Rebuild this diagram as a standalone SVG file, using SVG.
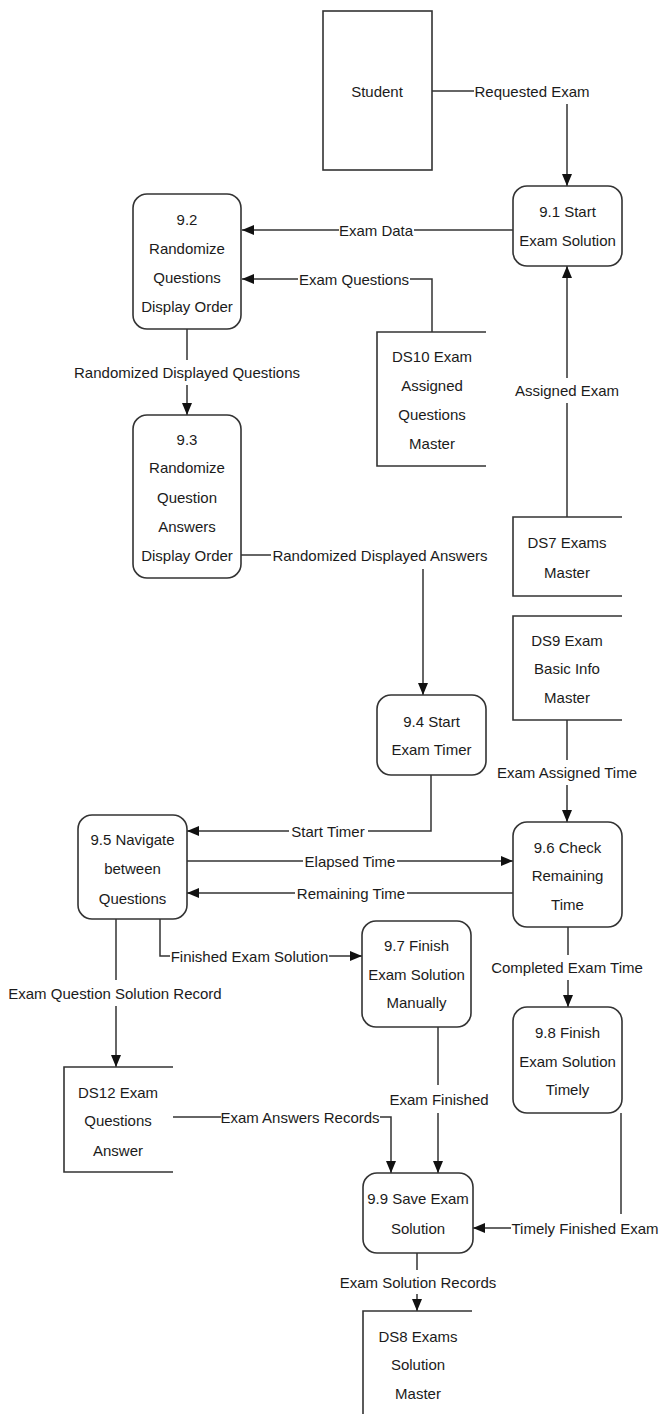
<svg xmlns="http://www.w3.org/2000/svg" width="659" height="1414" viewBox="0 0 659 1414">
  <style>
    .bg { fill: #ffffff; }
    .proc { fill: #ffffff; stroke: #333333; stroke-width: 1.6; }
    .ext { fill: #ffffff; stroke: #333333; stroke-width: 1.6; }
    .store { fill: none; stroke: #333333; stroke-width: 1.6; }
    .flow { fill: none; stroke: #333333; stroke-width: 1.5; }
    .arrow { marker-end: url(#head); }
    text { font-family: "Liberation Sans", Arial, sans-serif; font-size: 15px; fill: #1b1b1b; text-anchor: middle; dominant-baseline: central; }
  </style>
  <defs>
    <marker id="head" markerUnits="userSpaceOnUse" markerWidth="12" markerHeight="10" refX="12" refY="5" orient="auto">
      <path d="M0,0 L12,5 L0,10 z" fill="#111111"/>
    </marker>
  </defs>

  <rect class="bg" x="0" y="0" width="659" height="1414"/>

  <!-- data flows -->
  <g id="connectors">
    <!-- Requested Exam -->
    <path class="flow" d="M432,91 H474"/>
    <path class="flow arrow" d="M567,104 V186"/>
    <text x="532" y="91">Requested Exam</text>
    <!-- Exam Data -->
    <path class="flow" d="M513,230 H414"/>
    <path class="flow arrow" d="M339,230 H242"/>
    <text x="376" y="230">Exam Data</text>
    <!-- Exam Questions -->
    <path class="flow" d="M432,332 V279 H410"/>
    <path class="flow arrow" d="M298,279 H242"/>
    <text x="354" y="279">Exam Questions</text>
    <!-- Randomized Displayed Questions -->
    <path class="flow" d="M187,329 V360"/>
    <path class="flow arrow" d="M187,385 V415"/>
    <text x="187" y="372">Randomized Displayed Questions</text>
    <!-- Randomized Displayed Answers -->
    <path class="flow" d="M241,555 H271"/>
    <path class="flow arrow" d="M423,569 V695"/>
    <text x="380" y="555">Randomized Displayed Answers</text>
    <!-- Assigned Exam -->
    <path class="flow" d="M567,517 V403"/>
    <path class="flow arrow" d="M567,378 V266"/>
    <text x="567" y="390">Assigned Exam</text>
    <!-- Exam Assigned Time -->
    <path class="flow" d="M567,720 V760"/>
    <path class="flow arrow" d="M567,785 V822"/>
    <text x="567" y="772">Exam Assigned Time</text>
    <!-- Start Timer -->
    <path class="flow" d="M431,775 V831 H368"/>
    <path class="flow arrow" d="M289,831 H187"/>
    <text x="328" y="831">Start Timer</text>
    <!-- Elapsed Time -->
    <path class="flow" d="M187,861 H303"/>
    <path class="flow arrow" d="M397,861 H513"/>
    <text x="350" y="861">Elapsed Time</text>
    <!-- Remaining Time -->
    <path class="flow" d="M513,893 H407"/>
    <path class="flow arrow" d="M295,893 H187"/>
    <text x="351" y="893">Remaining Time</text>
    <!-- Finished Exam Solution -->
    <path class="flow" d="M160,919 V956 H170"/>
    <path class="flow arrow" d="M329,956 H362"/>
    <text x="249.5" y="956">Finished Exam Solution</text>
    <!-- Completed Exam Time -->
    <path class="flow" d="M568,927 V955"/>
    <path class="flow arrow" d="M568,980 V1007"/>
    <text x="567" y="967">Completed Exam Time</text>
    <!-- Exam Question Solution Record -->
    <path class="flow" d="M116,919 V980"/>
    <path class="flow arrow" d="M116,1006 V1067"/>
    <text x="115" y="993">Exam Question Solution Record</text>
    <!-- Exam Answers Records -->
    <path class="flow" d="M173,1117 H221"/>
    <path class="flow arrow" d="M380,1117 H391 V1173"/>
    <text x="300" y="1117">Exam Answers Records</text>
    <!-- Exam Finished -->
    <path class="flow" d="M438,1027 V1085"/>
    <path class="flow arrow" d="M438,1113 V1173"/>
    <text x="439" y="1099">Exam Finished</text>
    <!-- Timely Finished Exam -->
    <path class="flow" d="M621,1113 V1214"/>
    <path class="flow arrow" d="M511,1228 H473"/>
    <text x="585" y="1228">Timely Finished Exam</text>
    <!-- Exam Solution Records -->
    <path class="flow" d="M417,1253 V1270"/>
    <path class="flow arrow" d="M417,1294 V1311"/>
    <text x="418" y="1282">Exam Solution Records</text>
  </g>

  <!-- external entity -->
  <g id="student">
    <rect class="ext" x="323" y="11" width="109" height="159"/>
    <text x="377" y="91">Student</text>
  </g>

  <!-- processes -->
  <g id="p9_1">
    <rect class="proc" x="513" y="186" width="109" height="80" rx="14"/>
    <text x="567.5" y="211">9.1 Start</text>
    <text x="567.5" y="240">Exam Solution</text>
  </g>
  <g id="p9_2">
    <rect class="proc" x="133" y="194" width="108" height="135" rx="14"/>
    <text x="187" y="219">9.2</text>
    <text x="187" y="248">Randomize</text>
    <text x="187" y="277">Questions</text>
    <text x="187" y="306">Display Order</text>
  </g>
  <g id="p9_3">
    <rect class="proc" x="133" y="415" width="108" height="163" rx="14"/>
    <text x="187" y="439">9.3</text>
    <text x="187" y="467">Randomize</text>
    <text x="187" y="497">Question</text>
    <text x="187" y="526">Answers</text>
    <text x="187" y="555">Display Order</text>
  </g>
  <g id="p9_4">
    <rect class="proc" x="377" y="695" width="109" height="80" rx="14"/>
    <text x="431.5" y="721">9.4 Start</text>
    <text x="431.5" y="749">Exam Timer</text>
  </g>
  <g id="p9_5">
    <rect class="proc" x="78" y="815" width="109" height="104" rx="14"/>
    <text x="132.5" y="839">9.5 Navigate</text>
    <text x="132.5" y="868">between</text>
    <text x="132.5" y="898">Questions</text>
  </g>
  <g id="p9_6">
    <rect class="proc" x="513" y="822" width="109" height="105" rx="14"/>
    <text x="567.5" y="847">9.6 Check</text>
    <text x="567.5" y="875">Remaining</text>
    <text x="567.5" y="904">Time</text>
  </g>
  <g id="p9_7">
    <rect class="proc" x="362" y="921" width="109" height="106" rx="14"/>
    <text x="416.5" y="945">9.7 Finish</text>
    <text x="416.5" y="974">Exam Solution</text>
    <text x="416.5" y="1002">Manually</text>
  </g>
  <g id="p9_8">
    <rect class="proc" x="513" y="1007" width="109" height="106" rx="14"/>
    <text x="567.5" y="1032">9.8 Finish</text>
    <text x="567.5" y="1061">Exam Solution</text>
    <text x="567.5" y="1089">Timely</text>
  </g>
  <g id="p9_9">
    <rect class="proc" x="363" y="1173" width="110" height="80" rx="14"/>
    <text x="418" y="1198">9.9 Save Exam</text>
    <text x="418" y="1228">Solution</text>
  </g>

  <!-- data stores (open-ended boxes) -->
  <g id="ds10">
    <path class="store" d="M486,332 H377 V466 H486"/>
    <text x="432" y="356">DS10 Exam</text>
    <text x="432" y="385">Assigned</text>
    <text x="432" y="414">Questions</text>
    <text x="432" y="443">Master</text>
  </g>
  <g id="ds7">
    <path class="store" d="M622,517 H513 V596 H622"/>
    <text x="567" y="542">DS7 Exams</text>
    <text x="567" y="572">Master</text>
  </g>
  <g id="ds9">
    <path class="store" d="M622,616 H513 V720 H622"/>
    <text x="567" y="640">DS9 Exam</text>
    <text x="567" y="668">Basic Info</text>
    <text x="567" y="697">Master</text>
  </g>
  <g id="ds12">
    <path class="store" d="M173,1067 H64 V1172 H173"/>
    <text x="118" y="1092">DS12 Exam</text>
    <text x="118" y="1120">Questions</text>
    <text x="118" y="1150">Answer</text>
  </g>
  <g id="ds8">
    <path class="store" d="M472,1311 H363 V1414"/>
    <text x="418" y="1336">DS8 Exams</text>
    <text x="418" y="1364">Solution</text>
    <text x="418" y="1393">Master</text>
  </g>
</svg>
